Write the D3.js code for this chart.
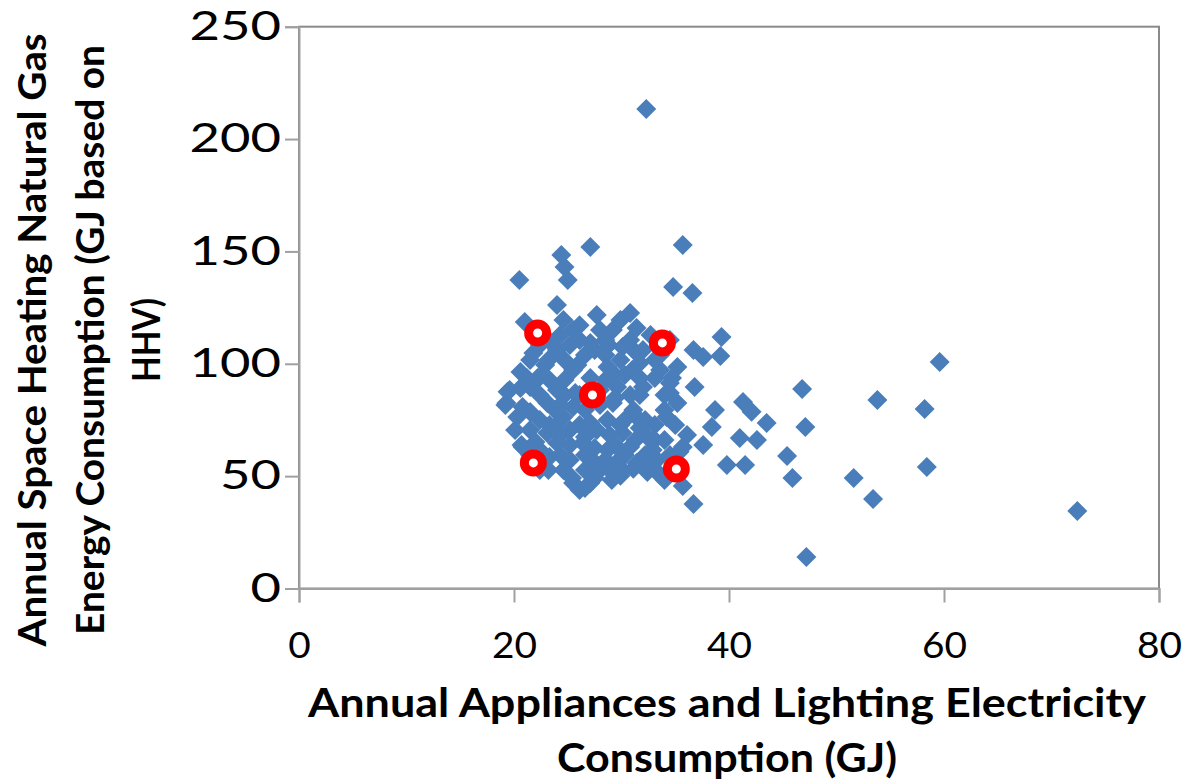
<!DOCTYPE html>
<html>
    <head>
        <meta charset="UTF-8">
        <script src="https://d3js.org/d3.v7.min.js"></script>
        <style>
            body { margin: 0; background: #fff; }
        </style>
    </head>

    <body>

        <svg id="canvas"></svg>

        <script>

            width = 1192;
            height = 781;

            // annual appliances & lighting electricity (GJ) / space heating gas (GJ HHV)
            applianceGJ = [
                32.3, 59.6, 53.8, 58.2, 58.4, 53.4, 51.6, 72.4, 47.2, 46.8,
                47.1, 45.4, 45.9, 35.7, 34.8, 36.6, 39.3, 36.7, 35.7, 36.8,
                41.3, 42.1, 43.5, 38.7, 38.4, 41.0, 42.6, 36.1, 37.6, 39.8,
                41.5, 36.7, 37.6, 39.2, 35.2, 34.5, 35.4, 24.4, 27.1, 24.7,
                25.0, 20.5, 24.0, 30.8, 21.0,
                24.6, 27.7, 31.4, 25.5, 29.2, 21.8, 21.5, 24.0, 27.1, 30.1,
                32.0, 22.4, 25.5, 28.7, 31.7, 19.6, 21.5, 24.0, 29.6, 32.0,
                34.5, 19.3, 20.8, 23.1, 25.5, 29.2, 31.1, 35.2, 20.3, 22.4,
                24.6, 27.1, 28.7, 31.4, 34.2, 23.1, 25.2, 27.7, 30.1, 32.4,
                20.8, 24.0, 26.4, 28.7, 30.8, 32.9, 35.7, 23.3, 25.2, 27.3,
                29.6, 31.4, 33.3, 24.6, 28.0, 30.1, 32.4, 25.5, 27.1, 26.1,
                22.4, 24.3, 26.1, 28.0, 29.9, 32.7, 34.5, 22.9, 24.7, 26.6,
                28.5, 29.9, 33.1, 23.3, 27.1, 30.3, 33.1, 24.7, 28.0, 30.8,
                34.0, 21.5, 23.8, 26.6, 28.0, 30.3, 33.1, 35.0, 21.5, 28.9,
                31.7, 34.0, 22.4, 25.2, 27.5, 29.4, 32.2, 34.5, 19.4, 19.2,
                20.6, 22.2, 20.7, 22.0, 23.8, 25.4, 26.6, 27.5, 26.1, 28.5,
                30.8, 29.4, 26.1, 20.6, 23.2, 29.1, 33.6, 34.0, 29.9, 31.1,
                32.4, 29.9,
                23.2, 25.2, 27.5, 28.8, 31.3, 33.6, 23.2, 25.9, 31.0, 33.6,
                21.2, 24.7, 28.5, 31.7, 34.7, 22.4, 29.4, 31.7, 24.3, 27.7,
                34.0, 20.1, 26.1, 29.9, 32.2, 24.3, 26.6, 31.3, 33.1, 21.5,
                24.3, 26.6, 28.5, 30.3, 33.1, 22.4, 26.6, 28.9, 25.7, 23.3
            ];
            heatingGJ = [
                213.4, 100.8, 83.9, 79.9, 54.1, 39.8, 49.2, 34.5, 14.0, 88.8,
                71.9, 59.0, 49.2, 152.9, 134.2, 131.5, 111.9, 37.6, 45.6, 89.7,
                83.0, 78.6, 73.7, 79.4, 71.9, 67.0, 66.1, 68.3, 63.9, 55.0,
                55.0, 106.1, 103.0, 103.5, 98.6, 87.0, 60.8, 148.4, 152.0, 143.1,
                137.3, 137.3, 126.2, 122.6, 118.6,
                119.5, 121.7, 115.9, 115.0, 115.0, 104.8, 101.7, 106.1, 109.3, 107.5,
                106.1, 94.1, 97.2, 98.6, 100.4, 88.3, 89.7, 88.3, 89.7, 89.7,
                91.5, 82.6, 80.8, 82.6, 80.8, 82.6, 79.4, 82.6, 76.3, 75.0,
                76.3, 73.7, 75.0, 76.3, 76.3, 69.2, 70.5, 70.5, 69.2, 67.4,
                63.0, 64.8, 64.8, 61.6, 63.0, 61.6, 63.0, 58.5, 57.2, 57.2,
                55.9, 55.9, 57.2, 52.7, 52.7, 52.7, 54.1, 47.0, 47.0, 43.8,
                108.4, 112.8, 117.2, 115.0, 119.5, 112.8, 110.6, 99.5, 101.7, 103.9,
                103.9, 101.7, 101.7, 92.8, 93.7, 95.0, 93.7, 86.1, 88.3, 86.1,
                86.1, 78.5, 79.4, 79.4, 81.7, 75.0, 72.8, 72.8, 70.5, 68.3,
                71.4, 66.1, 61.6, 63.9, 62.5, 63.9, 59.4, 59.4, 87.5, 81.7,
                89.2, 93.7, 63.9, 65.2, 71.9, 49.2, 44.7, 49.2, 110.6, 110.6,
                110.6, 95.0, 86.1, 96.3, 52.7, 48.3, 50.5, 48.3, 50.2, 53.3,
                51.8, 57.9,
                110.6, 108.4, 106.1, 108.4, 105.2, 103.9, 101.7, 99.5, 97.2, 97.2,
                93.7, 92.8, 92.8, 93.7, 93.7, 86.1, 84.8, 86.1, 81.7, 83.9,
                79.4, 70.5, 72.8, 72.8, 75.0, 68.3, 67.4, 66.1, 66.1, 59.4,
                59.4, 59.4, 57.2, 59.4, 52.7, 52.7, 52.7, 52.7, 87.0, 72.8
            ];

            // the five ringed houses
            ringAppliance = [22.2, 33.8, 27.3, 21.8, 35.1];
            ringHeating = [113.7, 109.3, 86.1, 55.9, 53.2];

            xTicks = [0, 20, 40, 60, 80];
            yTicks = [0, 50, 100, 150, 200, 250];

            points = applianceGJ.map((v, i) => ({x: v, y: heatingGJ[i]}));
            rings = ringAppliance.map((v, i) => ({x: v, y: ringHeating[i]}));

            canvas = d3.select("#canvas")
                .attr("width", width)
                .attr("height", height);

            x = d3.scaleLinear().domain([0, 80]).range([299, 1159]);
            y = d3.scaleLinear().domain([0, 250]).range([588.5, 26.7]);

            // plot frame
            canvas.append("rect")
                .attr("x", x(0)).attr("y", y(250))
                .attr("width", x(80) - x(0)).attr("height", y(0) - y(250))
                .attr("style", "fill:none; stroke:#8a8a8a; stroke-width:2;");

            xAxis = canvas.append("g")
                .attr("transform", "translate(0," + y(0) + ")")
                .call(d3.axisBottom(x).tickValues(xTicks).tickSize(14).tickPadding(29));

            yAxis = canvas.append("g")
                .attr("transform", "translate(" + x(0) + ",0)")
                .call(d3.axisLeft(y).tickValues(yTicks).tickSize(14).tickPadding(4));

            [xAxis, yAxis].forEach((g) => {
                g.select(".domain").attr("stroke", "#a0a0a0").attr("stroke-width", 2);
                g.selectAll(".tick line").attr("stroke", "#a0a0a0").attr("stroke-width", 2);
                g.selectAll(".tick text")
                    .attr("fill", "#000")
                    .style("font-family", "Lato, 'Open Sans', sans-serif");
            });

            xAxis.selectAll(".tick text")
                .style("font-size", "37px")
                .attr("textLength", (d) => String(d).length * 22.5)
                .attr("lengthAdjust", "spacingAndGlyphs");

            yAxis.selectAll(".tick text")
                .style("font-size", "40px")
                .attr("textLength", (d) => String(d).length * 30.5)
                .attr("lengthAdjust", "spacingAndGlyphs");

            diamond = d3.symbol().type(d3.symbolSquare).size(200);

            canvas.append("g").selectAll("path")
                .data(points)
                .enter().append("path")
                    .attr("d", diamond)
                    .attr("transform", (d) => "translate(" + x(d.x) + "," + y(d.y) + ") rotate(45)")
                    .style("fill", "#4a7ebb");

            canvas.append("g").selectAll("circle")
                .data(rings)
                .enter().append("circle")
                    .attr("cx", (d) => x(d.x))
                    .attr("cy", (d) => y(d.y))
                    .attr("r", 9)
                    .style("fill", "#fff")
                    .style("stroke", "#ff0000")
                    .style("stroke-width", 9);

            titleStyle = "font-family:Lato, 'Open Sans', sans-serif; font-weight:bold; fill:#000;";

            // [text, baseline, length, font size]
            xTitle = [
                ["Annual Appliances and Lighting Electricity", 717, 838, 41],
                ["Consumption (GJ)", 772, 340, 41]
            ];
            xTitle.forEach((t) => {
                canvas.append("text")
                    .attr("x", 727).attr("y", t[1])
                    .attr("text-anchor", "middle")
                    .attr("textLength", t[2])
                    .attr("lengthAdjust", "spacingAndGlyphs")
                    .attr("style", titleStyle + "font-size:" + t[3] + "px;")
                    .text(t[0]);
            });

            yTitle = [
                ["Annual Space Heating Natural Gas", 46, 613, 39],
                ["Energy Consumption (GJ based on", 104, 590, 39],
                ["HHV)", 160, 84, 39]
            ];
            yTitle.forEach((t) => {
                canvas.append("text")
                    .attr("transform", "translate(" + t[1] + ",340) rotate(-90)")
                    .attr("text-anchor", "middle")
                    .attr("textLength", t[2])
                    .attr("lengthAdjust", "spacingAndGlyphs")
                    .attr("style", titleStyle + "font-size:" + t[3] + "px;")
                    .text(t[0]);
            });

        </script>

    </body>

</html>
